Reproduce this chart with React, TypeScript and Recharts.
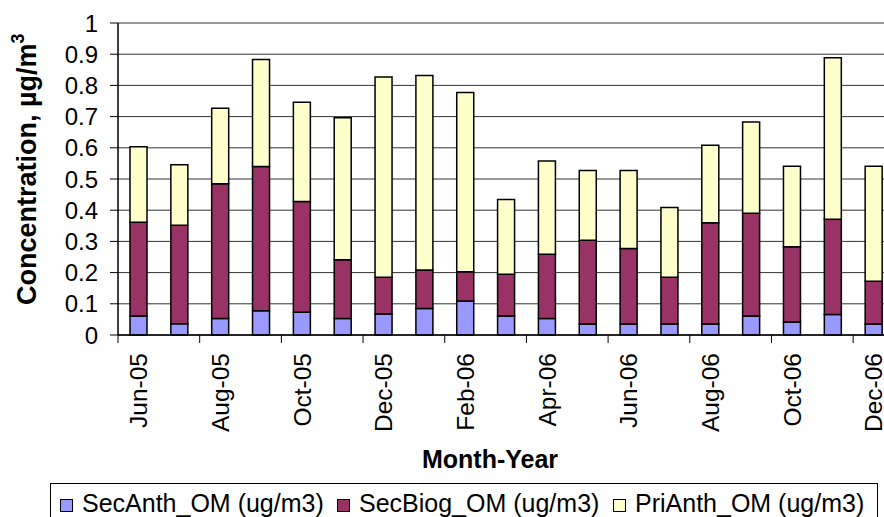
import { BarChart, Bar, XAxis, YAxis, CartesianGrid } from "recharts";

const months = [
  "Jun-05", "Jul-05", "Aug-05", "Sep-05", "Oct-05", "Nov-05", "Dec-05", "Jan-06",
  "Feb-06", "Mar-06", "Apr-06", "May-06", "Jun-06", "Jul-06", "Aug-06", "Sep-06",
  "Oct-06", "Nov-06", "Dec-06",
];
const secAnth = [0.061, 0.036, 0.053, 0.078, 0.073, 0.053, 0.067, 0.085, 0.109, 0.061, 0.053, 0.035, 0.035, 0.035, 0.035, 0.061, 0.042, 0.066, 0.035];
const secBiog = [0.3, 0.316, 0.432, 0.462, 0.355, 0.188, 0.118, 0.123, 0.094, 0.134, 0.206, 0.269, 0.242, 0.15, 0.325, 0.329, 0.241, 0.305, 0.137];
const priAnth = [0.242, 0.194, 0.242, 0.343, 0.318, 0.455, 0.642, 0.624, 0.574, 0.239, 0.299, 0.223, 0.25, 0.224, 0.248, 0.293, 0.258, 0.518, 0.369];
const yTicks = [0, 0.1, 0.2, 0.3, 0.4, 0.5, 0.6, 0.7, 0.8, 0.9, 1];

const series = [
  { key: "secAnth", name: "SecAnth_OM (ug/m3)", color: "#9999FF" },
  { key: "secBiog", name: "SecBiog_OM (ug/m3)", color: "#993366" },
  { key: "priAnth", name: "PriAnth_OM (ug/m3)", color: "#FFFFCC" },
];

const data = months.map((m, i) => ({
  month: m,
  secAnth: secAnth[i],
  secBiog: secBiog[i],
  priAnth: priAnth[i],
}));

const FONT = "'Liberation Sans', Arial, sans-serif";
const CHART_H = 517;
const X_AXIS_H = 182;
const AXIS_Y = CHART_H - X_AXIS_H; // plot bottom

function MonthTick(props: any) {
  const { x, payload } = props;
  const half = payload.offset ?? 20.4;
  const ty = AXIS_Y + 18;
  return (
    <g>
      <line x1={x - half} x2={x - half} y1={AXIS_Y} y2={AXIS_Y + 8} stroke="#000" strokeWidth={1} />
      <text
        x={x}
        y={ty}
        transform={`rotate(-90 ${x} ${ty})`}
        textAnchor="end"
        dy="0.36em"
        fontSize={24.5}
        fontFamily={FONT}
        fill="#000"
      >
        {payload.value}
      </text>
    </g>
  );
}

export default function App() {
  return (
    <div style={{ position: "fixed", left: 0, top: 0, width: 884, height: 517, overflow: "hidden", background: "#fff" }}>
      <BarChart
        width={900}
        height={CHART_H}
        data={data}
        margin={{ top: 23, right: 6, left: 0, bottom: 0 }}
        barSize={17}
      >
        <CartesianGrid horizontal vertical={false} stroke="#333" strokeWidth={1} />
        <XAxis
          dataKey="month"
          height={X_AXIS_H}
          interval={1}
          tickSize={8}
          tickMargin={10}
          tickLine={false}
          axisLine={{ stroke: "#000", strokeWidth: 1.5 }}
          tick={<MonthTick />}
          label={{
            content: () => (
              <text x={490} y={468} textAnchor="middle" fontSize={25} fontWeight="bold" fontFamily={FONT} fill="#000">
                Month-Year
              </text>
            ),
          }}
        />
        <YAxis
          domain={[0, 1]}
          ticks={yTicks}
          interval={0}
          width={118}
          tickSize={8}
          tickMargin={12}
          tick={{ fontSize: 24, fill: "#000", fontFamily: FONT }}
          tickLine={{ stroke: "#000" }}
          axisLine={{ stroke: "#000", strokeWidth: 1.5 }}
          label={{
            content: () => (
              <text
                x={36}
                y={305}
                transform="rotate(-90 36 305)"
                textAnchor="start"
                fontSize={27}
                fontWeight="bold"
                fontFamily={FONT}
                fill="#000"
              >
                Concentration, µg/m
                <tspan dy={-12} fontSize={18}>3</tspan>
              </text>
            ),
          }}
        />
        {series.map((s) => (
          <Bar
            key={s.key}
            dataKey={s.key}
            name={s.name}
            stackId="om"
            fill={s.color}
            stroke="#000"
            strokeWidth={1.5}
            isAnimationActive={false}
          />
        ))}
      </BarChart>
      <div
        style={{
          position: "absolute",
          left: 50,
          top: 483,
          width: 828,
          height: 50,
          border: "1px solid #000",
          boxSizing: "border-box",
          fontFamily: FONT,
          fontSize: 25,
        }}
      >
        {series.map((s, i) => (
          <div key={s.key} style={{ position: "absolute", left: [9, 286, 562][i], top: 5, display: "flex", alignItems: "center", whiteSpace: "nowrap", lineHeight: "29px" }}>
            <span style={{ display: "inline-block", width: 11, height: 11, background: s.color, border: "1.5px solid #000", marginRight: 9, marginTop: 4 }} />
            <span>{s.name}</span>
          </div>
        ))}
      </div>
    </div>
  );
}
